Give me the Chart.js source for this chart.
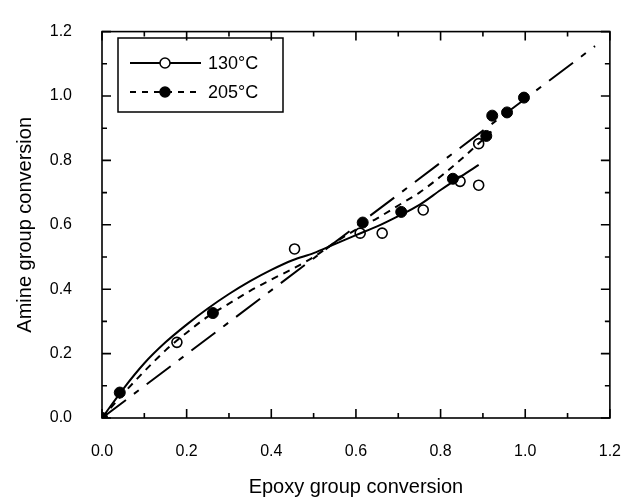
<!DOCTYPE html>
<html><head><meta charset="utf-8">
<script src="https://cdn.jsdelivr.net/npm/chart.js@4"></script>
<style>html,body{margin:0;padding:0;background:#fff}</style>
</head><body>
<canvas id="c" width="637" height="497"></canvas>
<script>
// ---- data ----
const majorTicks = [0, 0.2, 0.4, 0.6, 0.8, 1.0, 1.2];
const minorTicks = [0.1, 0.3, 0.5, 0.7, 0.9, 1.1];

const pts130X = [0.0, 0.177, 0.455, 0.610, 0.662, 0.759, 0.846, 0.890, 0.890];
const pts130Y = [0.0, 0.235, 0.525, 0.574, 0.574, 0.646, 0.735, 0.723, 0.852];

const pts205X = [0.0, 0.042, 0.262, 0.616, 0.707, 0.829, 0.908, 0.922, 0.957, 0.997];
const pts205Y = [0.0, 0.079, 0.326, 0.607, 0.640, 0.743, 0.876, 0.939, 0.949, 0.995];

const fit130X = [0, 0.05, 0.1, 0.15, 0.2, 0.25, 0.3, 0.35, 0.4, 0.45, 0.5, 0.55, 0.6, 0.65, 0.7, 0.75, 0.8, 0.85, 0.89];
const fit130Y = [0, 0.09, 0.17, 0.235, 0.29, 0.34, 0.385, 0.425, 0.46, 0.49, 0.512, 0.54, 0.568, 0.595, 0.627, 0.662, 0.708, 0.752, 0.786];

const fit205X = [0, 0.05, 0.1, 0.15, 0.2, 0.25, 0.3, 0.35, 0.4, 0.45, 0.5, 0.55, 0.6, 0.65, 0.7, 0.75, 0.8, 0.85, 0.9, 0.92];
const fit205Y = [0, 0.075, 0.145, 0.21, 0.265, 0.315, 0.355, 0.395, 0.43, 0.463, 0.5, 0.545, 0.585, 0.62, 0.66, 0.70, 0.75, 0.805, 0.865, 0.89];

const diagX = [0, 1.165];
const diagY = [0, 1.155];

const legendLabels = ['130°C', '205°C'];
const xTitle = 'Epoxy group conversion';
const yTitle = 'Amine group conversion';

const zip = (xs, ys) => xs.map((x, i) => ({x: x, y: ys[i]}));

// ---- plugins ----
const framePlugin = {
  id: 'frame',
  beforeDatasetsDraw(chart) {
    const {ctx, chartArea: a, scales: {x, y}} = chart;
    ctx.save();
    ctx.strokeStyle = '#000';
    ctx.lineWidth = 1.6;
    ctx.strokeRect(a.left, a.top, a.right - a.left, a.bottom - a.top);
    const drawTicks = (vals, len) => {
      vals.forEach(v => {
        const px = x.getPixelForValue(v);
        ctx.beginPath();
        ctx.moveTo(px, a.bottom); ctx.lineTo(px, a.bottom - len);
        ctx.moveTo(px, a.top); ctx.lineTo(px, a.top + len);
        const py = y.getPixelForValue(v);
        ctx.moveTo(a.left, py); ctx.lineTo(a.left + len, py);
        ctx.moveTo(a.right, py); ctx.lineTo(a.right - len, py);
        ctx.stroke();
      });
    };
    drawTicks(majorTicks, 9);
    drawTicks(minorTicks, 5);
    ctx.restore();
  }
};

const legendPlugin = {
  id: 'boxLegend',
  afterDraw(chart) {
    const ctx = chart.ctx;
    ctx.save();
    ctx.strokeStyle = '#000';
    ctx.lineWidth = 1.5;
    ctx.strokeRect(118, 38, 165, 74);
    const rows = [
      {y: 63, dash: [], fill: '#fff'},
      {y: 92, dash: [6, 6], fill: '#000'}
    ];
    rows.forEach((r, i) => {
      ctx.setLineDash(r.dash);
      ctx.lineWidth = 2;
      ctx.beginPath();
      ctx.moveTo(130, r.y); ctx.lineTo(201, r.y);
      ctx.stroke();
      ctx.setLineDash([]);
      ctx.beginPath();
      ctx.arc(165, r.y, 5, 0, Math.PI * 2);
      ctx.fillStyle = r.fill;
      ctx.fill();
      ctx.lineWidth = 1.5;
      ctx.stroke();
      ctx.fillStyle = '#000';
      ctx.font = '18px "Liberation Sans", Arial, sans-serif';
      ctx.textBaseline = 'middle';
      ctx.textAlign = 'left';
      ctx.fillText(legendLabels[i], 208, r.y + 1);
    });
    ctx.restore();
  }
};

const tickFont = {family: '"Liberation Sans", Arial, sans-serif', size: 16};
const titleFont = {family: '"Liberation Sans", Arial, sans-serif', size: 20, lineHeight: 1};

new Chart(document.getElementById('c'), {
  type: 'scatter',
  data: {
    datasets: [
      {type: 'line', data: zip(diagX, diagY), borderColor: '#000', borderWidth: 2,
       borderDash: [30, 10, 6, 10], pointRadius: 0, fill: false},
      {type: 'line', data: zip(fit205X, fit205Y), borderColor: '#000', borderWidth: 2,
       borderDash: [7, 6], pointRadius: 0, fill: false, cubicInterpolationMode: 'monotone'},
      {type: 'line', data: zip(fit130X, fit130Y), borderColor: '#000', borderWidth: 2,
       pointRadius: 0, fill: false, cubicInterpolationMode: 'monotone'},
      {data: zip(pts205X, pts205Y), pointRadius: 5.5, pointBackgroundColor: '#000',
       pointBorderColor: '#000', pointBorderWidth: 1},
      {data: zip(pts130X, pts130Y), pointRadius: 5, pointBackgroundColor: '#fff',
       pointBorderColor: '#000', pointBorderWidth: 1.6}
    ]
  },
  options: {
    responsive: false,
    devicePixelRatio: 1,
    animation: false,
    events: [],
    layout: {padding: {left: 0, right: 17, top: 21, bottom: 0}},
    plugins: {legend: {display: false}, tooltip: {enabled: false}},
    scales: {
      x: {
        type: 'linear', min: 0, max: 1.2,
        afterBuildTicks: s => { s.ticks = majorTicks.map(v => ({value: v})); },
        afterFit: s => { s.height = 79; },
        grid: {display: false},
        border: {display: false},
        ticks: {font: tickFont, color: '#000', padding: 16, maxRotation: 0,
                callback: v => Number(v).toFixed(1)},
        title: {display: true, text: xTitle, font: titleFont, color: '#000', padding: {top: 0, bottom: 0}}
      },
      y: {
        type: 'linear', min: 0, max: 1.2,
        afterBuildTicks: s => { s.ticks = majorTicks.map(v => ({value: v})); },
        afterFit: s => { s.width = 102; },
        grid: {display: false},
        border: {display: false},
        ticks: {font: tickFont, color: '#000', padding: 22,
                callback: v => Number(v).toFixed(1)},
        title: {display: true, text: yTitle, font: titleFont, color: '#000', padding: {top: 15, bottom: 0}}
      }
    }
  },
  plugins: [framePlugin, legendPlugin]
});
</script>
</body></html>
